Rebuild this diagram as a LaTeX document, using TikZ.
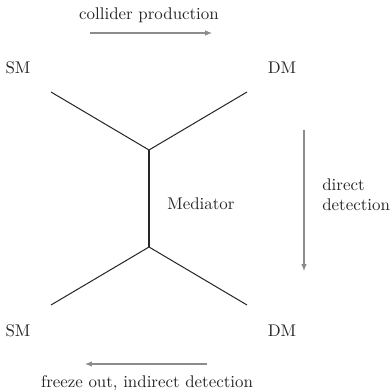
\documentclass[tikz,border=0pt]{standalone}
\usetikzlibrary{arrows.meta}
\begin{document}
\begin{tikzpicture}[x=0.5917pt,y=-0.5917pt,
  prop/.style={line width=0.6pt,black!85},
  flow/.style={line width=0.6pt,black!45,-{Latex[length=4pt,width=3.2pt]}},
  lbl/.style={inner sep=0pt,text=black!85}]
\useasboundingbox (0,0) rectangle (392,391);
% vertices
\coordinate (vt) at (149,150);
\coordinate (vb) at (149,247);
\coordinate (tl) at (51,92);
\coordinate (tr) at (247,92);
\coordinate (bl) at (51,305);
\coordinate (br) at (247,305);
\draw[prop] (tl) -- (vt) -- (tr);
\draw[prop] (vt) -- (vb);
\draw[prop] (bl) -- (vb) -- (br);
% labels
\node[lbl] (smt) at (18,68) {SM};
\node[lbl] (dmt) at (282,68) {DM};
\node[lbl] (smb) at (18,331) {SM};
\node[lbl] (dmb) at (282,331) {DM};
\node[lbl,anchor=west] (med) at (167,204) {Mediator};
% arrows
\coordinate (a1) at (90,33);
\coordinate (a2) at (212,33);
\draw[flow] (a1) -- (a2);
\node[lbl] (cp) at (149,15) {collider production};
\coordinate (b1) at (304,130);
\coordinate (b2) at (304,271);
\draw[flow] (b1) -- (b2);
\node[lbl,anchor=west,align=left] (dd) at (322,195) {direct\\detection};
\coordinate (c1) at (207,364);
\coordinate (c2) at (85,364);
\draw[flow] (c1) -- (c2);
\node[lbl] (fo) at (147,383) {freeze out,\ indirect detection};
\end{tikzpicture}
\end{document}
